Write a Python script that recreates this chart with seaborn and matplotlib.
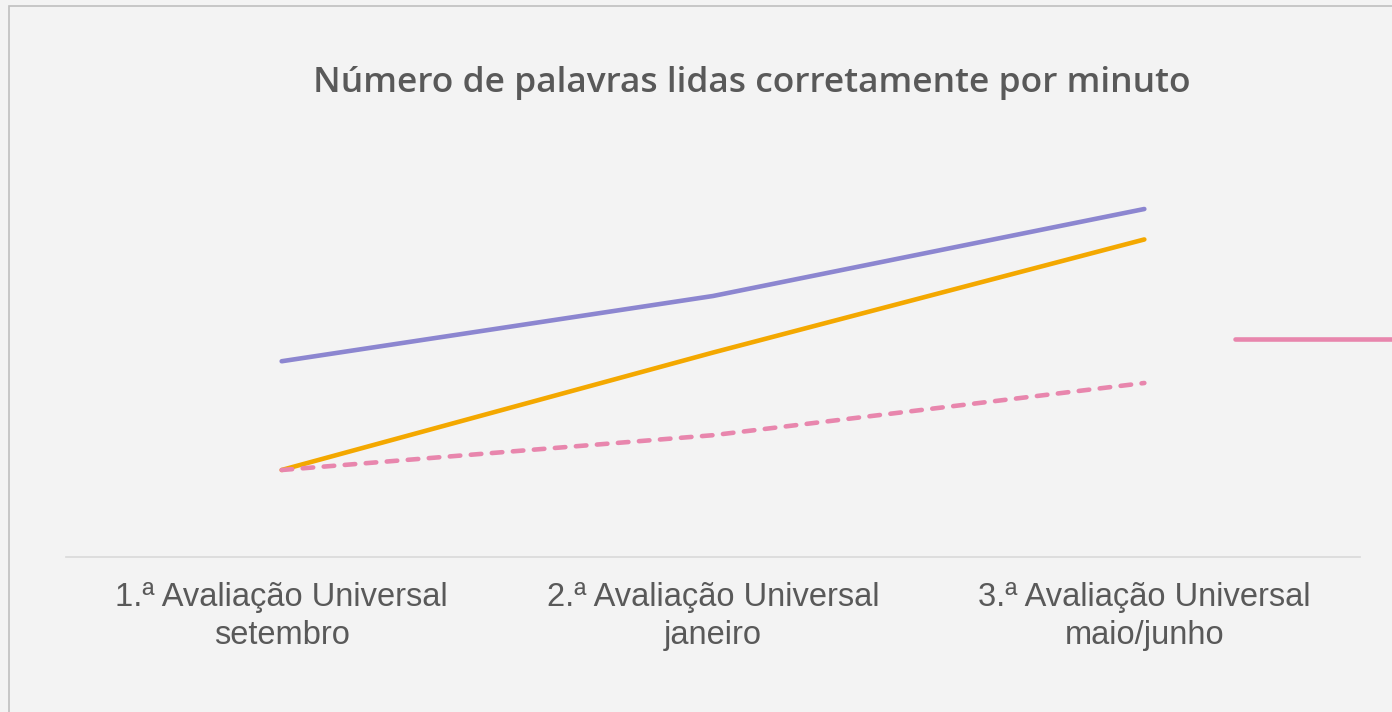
import matplotlib
matplotlib.use("Agg")
import matplotlib.pyplot as plt
from matplotlib.lines import Line2D
from matplotlib.patches import Rectangle
import pandas as pd
import seaborn as sns

# values (words per minute)
momentos = ["1.ª Avaliação Universal\nsetembro",
            "2.ª Avaliação Universal\njaneiro",
            "3.ª Avaliação Universal\nmaio/junho"]
serie_roxa = [45, 60, 80]
serie_laranja = [20, 47, 73]
serie_rosa = [20, 28, 40]
nomes = ["Série roxa", "Série laranja", "Série rosa"]

cores = {"Série roxa": "#8C86D0", "Série laranja": "#F3A800", "Série rosa": "#E886AD"}
tracos = {"Série roxa": "", "Série laranja": "", "Série rosa": (2.3, 2.3)}

df = pd.DataFrame({
    "momento": momentos * 3,
    "valor": serie_roxa + serie_laranja + serie_rosa,
    "serie": [n for n in nomes for _ in momentos],
})

sns.set_theme(style="white")
plt.rcParams["font.family"] = ["Liberation Sans", "DejaVu Sans"]

bg = "#f3f3f3"
fig = plt.figure(figsize=(13.92, 7.12), dpi=100, facecolor=bg)
ax = fig.add_axes([66 / 1392, 1 - 557 / 712, (1360 - 66) / 1392, 435 / 712])
ax.set_facecolor("none")

sns.lineplot(data=df, x="momento", y="valor", hue="serie", style="serie",
             palette=cores, dashes=tracos, linewidth=3.3, sort=False,
             ax=ax, legend=False)
for ln in ax.lines:
    ln.set_solid_capstyle("round")
    ln.set_dash_capstyle("round")

ax.set_xlim(-0.5, 2.5)
ax.set_ylim(0, 100)
ax.set_yticks([])
ax.set_xlabel("")
ax.set_ylabel("")
for s in ["top", "right", "left"]:
    ax.spines[s].set_visible(False)
ax.spines["bottom"].set_color("#d9d9d9")
ax.spines["bottom"].set_linewidth(1.2)
ax.tick_params(axis="x", length=0, pad=18, labelsize=23.5, labelcolor="#595959")
for t in ax.get_xticklabels():
    t.set_linespacing(1.3)

fig.text(752 / 1392, 1 - 83 / 712, "Número de palavras lidas corretamente por minuto",
         ha="center", va="center", fontsize=25.5, fontweight="semibold",
         color="#595959", family=["Open Sans", "DejaVu Sans"])

# frame of the slide
fig.patches.append(Rectangle((9 / 1392, -0.1), 1.2, 1 - 6 / 712 + 0.1,
                             transform=fig.transFigure, fill=False,
                             edgecolor="#bfbfbf", linewidth=1.2))

# legend sitting at the right edge, its text falls outside the slide
handle = Line2D([], [], color=cores["Série rosa"], linewidth=3.3, solid_capstyle="round")
fig.legend([handle], [" "], loc="center left",
           bbox_to_anchor=(1235 / 1392, 1 - 341 / 712), frameon=False,
           borderpad=0, borderaxespad=0, handlelength=8, fontsize=19)

fig.savefig("out.png", dpi=100, facecolor=bg)
